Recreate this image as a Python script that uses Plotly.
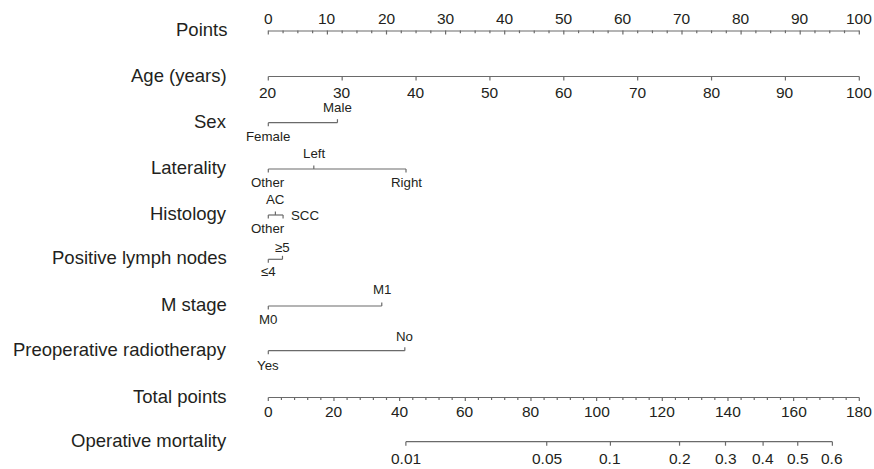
import plotly.graph_objects as go

# ---------------- data ----------------
points_ticks = [0, 10, 20, 30, 40, 50, 60, 70, 80, 90, 100]
points_minor_step = 2.5

age_ticks = [20, 30, 40, 50, 60, 70, 80, 90, 100]
age_range = [20, 100]          # age mapped to 0..100 points

sex_levels = ["Female", "Male"]
sex_points = [0, 11.7]

lat_levels = ["Other", "Left", "Right"]
lat_points = [0, 7.7, 23.3]

hist_levels = ["Other", "AC", "SCC"]
hist_points = [0, 1.2, 2.5]

node_levels = ["≤4", "≥5"]
node_points = [0, 2.4]

m_levels = ["M0", "M1"]
m_points = [0, 19.2]

rad_levels = ["Yes", "No"]
rad_points = [0, 23.1]

total_ticks = [0, 20, 40, 60, 80, 100, 120, 140, 160, 180]
total_minor_step = 4
total_max = 180

mort_labels = ["0.01", "0.05", "0.1", "0.2", "0.3", "0.4", "0.5", "0.6"]
mort_total = [41.9, 84.8, 104.2, 125.25, 139.25, 150.7, 161.25, 171.8]

row_names = ["Points", "Age (years)", "Sex", "Laterality", "Histology",
             "Positive lymph nodes", "M stage", "Preoperative radiotherapy",
             "Total points", "Operative mortality"]

# ---------------- layout / style ----------------
W, H = 874, 469
PX0, PPU = 268.3, 5.91          # pixel of 0 points, pixels per point
LINE = "#6a6a6a"
TXT = "#231f20"
FONT = "Liberation Sans, Arial, Helvetica, sans-serif"
LW = 1.2

fig = go.Figure()
annotations = []


def seg_trace(xs, ys):
    fig.add_trace(go.Scatter(x=xs, y=ys, mode="lines",
                             line=dict(color=LINE, width=LW),
                             hoverinfo="skip", showlegend=False))


def text(x, y, s, size, xanchor="center"):
    annotations.append(dict(x=x, y=y, text=s, showarrow=False,
                            xanchor=xanchor, yanchor="middle",
                            font=dict(family=FONT, size=size, color=TXT)))


row_y = [31, 76.5, 122.7, 169, 215, 259.3, 306, 350.7, 397.5, 441.7]
label_dy = -1.5
for name, y in zip(row_names, row_y):
    text(-6.7, y + label_dy, name, 18.5, xanchor="right")

# Points axis
y = row_y[0]
seg_trace([0, 100], [y, y])
xs, ys = [], []
n = int(round(100 / points_minor_step))
for i in range(n + 1):
    v = i * points_minor_step
    L = 3.5 if abs(v % 10) < 1e-9 else 2.2
    xs += [v, v, None]
    ys += [y - 0.6, y + L, None]
seg_trace(xs, ys)
for v in points_ticks:
    text(v, 18.5, str(v), 15.5)

# Age axis
y = row_y[1]
a0, a1 = age_range
age_to_pts = lambda a: (a - a0) / (a1 - a0) * 100
seg_trace([age_to_pts(a0), age_to_pts(a1)], [y, y])
xs, ys = [], []
for a in age_ticks:
    xs += [age_to_pts(a), age_to_pts(a), None]
    ys += [y, y + 4, None]
    text(age_to_pts(a), y + 15.5, str(a), 15.5)
seg_trace(xs, ys)


# categorical axes
def cat_axis(y, levels, pts, sides, up=15.5, down=13.8):
    seg_trace([min(pts), max(pts)], [y, y])
    xs, ys = [], []
    for lev, p, side in zip(levels, pts, sides):
        if side == "above":
            xs += [p, p, None]; ys += [y, y - 3.5, None]
            text(p, y - up, lev, 13.3)
        elif side == "below":
            xs += [p, p, None]; ys += [y, y + 3.5, None]
            text(p, y + down, lev, 13.3)
        else:  # right of the end
            xs += [p, p, None]; ys += [y, y + 3.5, None]
            text(p + 1.0, y, lev, 13.3, xanchor="left")
    seg_trace(xs, ys)


cat_axis(row_y[2], sex_levels, sex_points, ["below", "above"])
cat_axis(row_y[3], lat_levels, lat_points, ["below", "above", "below"])
cat_axis(row_y[4], hist_levels, hist_points, ["below", "above", "right"])
cat_axis(row_y[5], node_levels, node_points, ["below", "above"], up=12, down=11.7)
cat_axis(row_y[6], m_levels, m_points, ["below", "above"], up=17, down=13)
cat_axis(row_y[7], rad_levels, rad_points, ["below", "above"], up=14.7, down=14.3)

# Total points axis
y = row_y[8]
tp = lambda t: t / total_max * 100
seg_trace([tp(0), tp(total_max)], [y, y])
xs, ys = [], []
for i in range(int(total_max / total_minor_step) + 1):
    v = i * total_minor_step
    L = 3.5 if v % 20 == 0 else 2.5
    xs += [tp(v), tp(v), None]
    ys += [y, y + L, None]
seg_trace(xs, ys)
for v in total_ticks:
    text(tp(v), y + 13.5, str(v), 15.5)

# Operative mortality axis
y = row_y[9]
seg_trace([tp(mort_total[0]), tp(mort_total[-1])], [y, y])
xs, ys = [], []
for lab, t in zip(mort_labels, mort_total):
    xs += [tp(t), tp(t), None]
    ys += [y, y + 4, None]
    text(tp(t), y + 16.5, lab, 15.5)
seg_trace(xs, ys)

fig.update_layout(
    width=W, height=H,
    margin=dict(l=0, r=0, t=0, b=0),
    paper_bgcolor="white", plot_bgcolor="white",
    xaxis=dict(range=[-PX0 / PPU, (W - PX0) / PPU], visible=False, fixedrange=True),
    yaxis=dict(range=[H, 0], visible=False, fixedrange=True),
    annotations=annotations,
    showlegend=False,
)

fig.write_html(
    "out.html",
    config={"displayModeBar": False},
    post_script="document.body.style.margin='0';document.body.style.overflow='hidden';",
)
